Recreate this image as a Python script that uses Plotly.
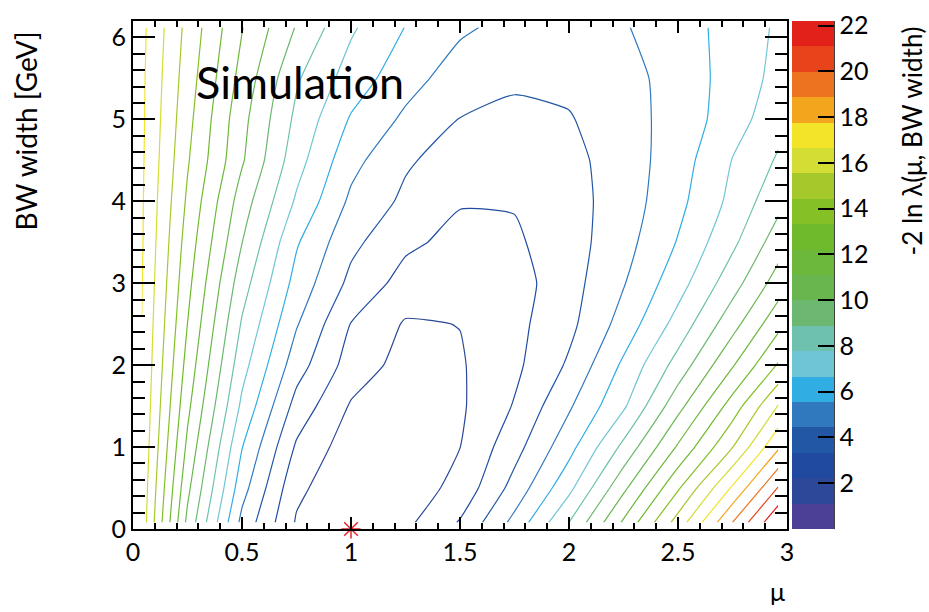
import plotly.graph_objects as go

# ---- grid of the likelihood scan ----
mu_values = [0.04, 0.25, 0.5, 0.75, 1.0, 1.25, 1.5, 1.75, 2.0, 2.25, 2.5, 2.75, 2.96]
width_values = [0.08, 0.5, 1.0, 1.5, 2.0, 2.5, 3.0, 3.5, 4.0, 4.5, 5.0, 5.5, 6.12]

nll_w0p08 = [16.2, 9.71, 4.12, 1.0, 0.0, 0.85, 2.31, 4.77, 7.77, 11.26, 14.9, 18.87, 22.1]
nll_w0p5 = [16.3, 10.26, 4.87, 1.35, 0.3, 0.5, 1.45, 3.73, 6.36, 9.74, 13.18, 16.81, 20.05]
nll_w1p0 = [16.43, 10.85, 5.59, 2.06, 0.5, 0.5, 1.1, 2.92, 5.16, 8.05, 11.24, 14.4, 17.6]
nll_w1p5 = [16.52, 11.37, 6.42, 2.92, 1.0, 0.5, 0.95, 2.3, 4.29, 6.49, 9.62, 12.7, 15.6]
nll_w2p0 = [16.59, 11.81, 7.07, 3.82, 1.72, 0.7, 1.0, 1.97, 3.49, 5.75, 8.2, 11.0, 13.43]
nll_w2p5 = [16.64, 12.2, 7.65, 4.53, 2.18, 1.0, 1.13, 1.9, 3.04, 4.88, 7.08, 9.58, 11.88]
nll_w3p0 = [16.7, 12.53, 8.25, 5.15, 3.04, 1.8, 1.35, 1.75, 2.9, 4.37, 6.2, 8.42, 10.5]
nll_w3p5 = [16.76, 12.83, 8.9, 5.67, 3.61, 2.44, 1.9, 2.05, 2.85, 4.03, 5.62, 7.53, 9.44]
nll_w4p0 = [16.78, 13.14, 9.44, 6.5, 4.22, 3.1, 2.3, 2.3, 2.9, 3.86, 5.24, 6.96, 8.55]
nll_w4p5 = [16.82, 13.43, 10.12, 7.1, 4.79, 3.48, 2.8, 2.7, 3.0, 3.87, 5.02, 6.7, 7.9]
nll_w5p0 = [16.85, 13.66, 10.33, 7.51, 5.44, 4.23, 3.3, 3.0, 3.25, 3.98, 4.88, 6.13, 7.4]
nll_w5p5 = [16.87, 13.87, 10.71, 7.91, 6.16, 4.87, 3.9, 3.55, 3.6, 4.0, 4.94, 5.97, 7.0]
nll_w6p12 = [16.93, 14.1, 11.15, 8.8, 6.82, 5.52, 4.62, 4.1, 4.0, 4.35, 5.07, 5.94, 6.83]

nll_rows = [nll_w0p08, nll_w0p5, nll_w1p0, nll_w1p5, nll_w2p0, nll_w2p5, nll_w3p0,
            nll_w3p5, nll_w4p0, nll_w4p5, nll_w5p0, nll_w5p5, nll_w6p12]

# contour levels / palette
level_step = 1.11
n_lines = 19
scale_min = 0.0
scale_max = 22.2
band_colors = ["#4b3f96", "#2d4898", "#1f4aa0", "#2157a4", "#3079be", "#30ade2",
               "#70c5d5", "#6dc1ad", "#6cb870", "#6ab64e", "#6cb83a", "#6fba2c",
               "#85c026", "#a5c92a", "#d3dd34", "#f3e42a", "#f3a51d", "#ec7420",
               "#e7441b", "#e3211b"]
cbar_ticks = [2, 4, 6, 8, 10, 12, 14, 16, 18, 20, 22]

best_fit_mu = [1.0]
best_fit_width = [0.0]

FONT = "Lato"

line_colors = band_colors[1:]
line_scale = [[j / (n_lines - 1), line_colors[j]] for j in range(n_lines)]

nb = len(band_colors)
band_scale = []
for i, c in enumerate(band_colors):
    band_scale.append([i / nb, c])
    band_scale.append([(i + 1) / nb, c])

fig = go.Figure()

fig.add_trace(go.Contour(
    x=mu_values, y=width_values, z=nll_rows,
    autocontour=False,
    contours=dict(start=level_step, end=level_step * n_lines, size=level_step,
                  coloring="lines", showlabels=False),
    colorscale=line_scale, showscale=False,
    line=dict(width=1.2, smoothing=0.5), hoverinfo="skip",
))

# palette axis
fig.add_trace(go.Scatter(
    x=[-1], y=[-1], mode="markers", showlegend=False, hoverinfo="skip",
    marker=dict(color=[scale_min], cmin=scale_min, cmax=scale_max,
                colorscale=band_scale, showscale=True, size=1,
                colorbar=dict(
                    x=(792 - 133) / 654, xanchor="left", xpad=0,
                    y=0, yanchor="bottom", ypad=0, len=1, lenmode="fraction",
                    thickness=42, outlinewidth=0,
                    tickmode="array", tickvals=cbar_ticks,
                    ticks="inside", ticklen=16, tickwidth=1.5, tickcolor="black",
                    tickfont=dict(family=FONT, size=25, color="black"),
                )),
))

fig.add_trace(go.Scatter(
    x=best_fit_mu, y=best_fit_width, mode="markers", showlegend=False,
    hoverinfo="skip", cliponaxis=False,
    marker=dict(symbol="asterisk-open", size=16, color="#e8232a",
                line=dict(color="#e8232a", width=1.5)),
))

axis_common = dict(
    showline=True, linecolor="black", linewidth=2, mirror="ticks",
    ticks="inside", tickcolor="black", tickwidth=1.5,
    showgrid=False, zeroline=False,
    tickfont=dict(family=FONT, size=25, color="black"),
)

fig.update_layout(
    width=929, height=612,
    margin=dict(l=133, r=142, t=21, b=83, autoexpand=False),
    paper_bgcolor="white", plot_bgcolor="white",
    font=dict(family=FONT, color="black"),
    xaxis=dict(range=[0, 3], tick0=0, dtick=0.5, ticklen=12,
               minor=dict(dtick=0.1, ticklen=6, ticks="inside", tickcolor="black",
                          tickwidth=1.5, showgrid=False),
               **axis_common),
    yaxis=dict(range=[0, 6.2], tick0=0, dtick=1, ticklen=22,
               minor=dict(dtick=0.2, ticklen=12, ticks="inside", tickcolor="black",
                          tickwidth=1.5, showgrid=False),
               **axis_common),
    shapes=[dict(type="line", xref="paper", yref="paper",
                 x0=(834 - 133) / 654, x1=(834 - 133) / 654, y0=0, y1=1,
                 line=dict(color="black", width=1.5))],
    annotations=[
        dict(text="Simulation", x=0.28, y=5.46, xref="x", yref="y",
             xanchor="left", yanchor="middle", showarrow=False,
             font=dict(family=FONT, size=45, color="black")),
        dict(text="μ", x=1.0, y=(529 - 591) / 508, xref="paper", yref="paper",
             xanchor="right", yanchor="middle", showarrow=False,
             font=dict(family=FONT, size=25, color="black")),
        dict(text="BW width [GeV]", x=(25 - 133) / 654, y=(529 - 30) / 508,
             xref="paper", yref="paper", textangle=-90,
             xanchor="center", yanchor="top", showarrow=False,
             font=dict(family=FONT, size=28, color="black")),
        dict(text="-2 ln λ(μ, BW width)", x=(911 - 133) / 654, y=(529 - 25) / 508,
             xref="paper", yref="paper", textangle=-90,
             xanchor="center", yanchor="top", showarrow=False,
             font=dict(family=FONT, size=26, color="black")),
    ],
)

fig.write_html("out.html")
